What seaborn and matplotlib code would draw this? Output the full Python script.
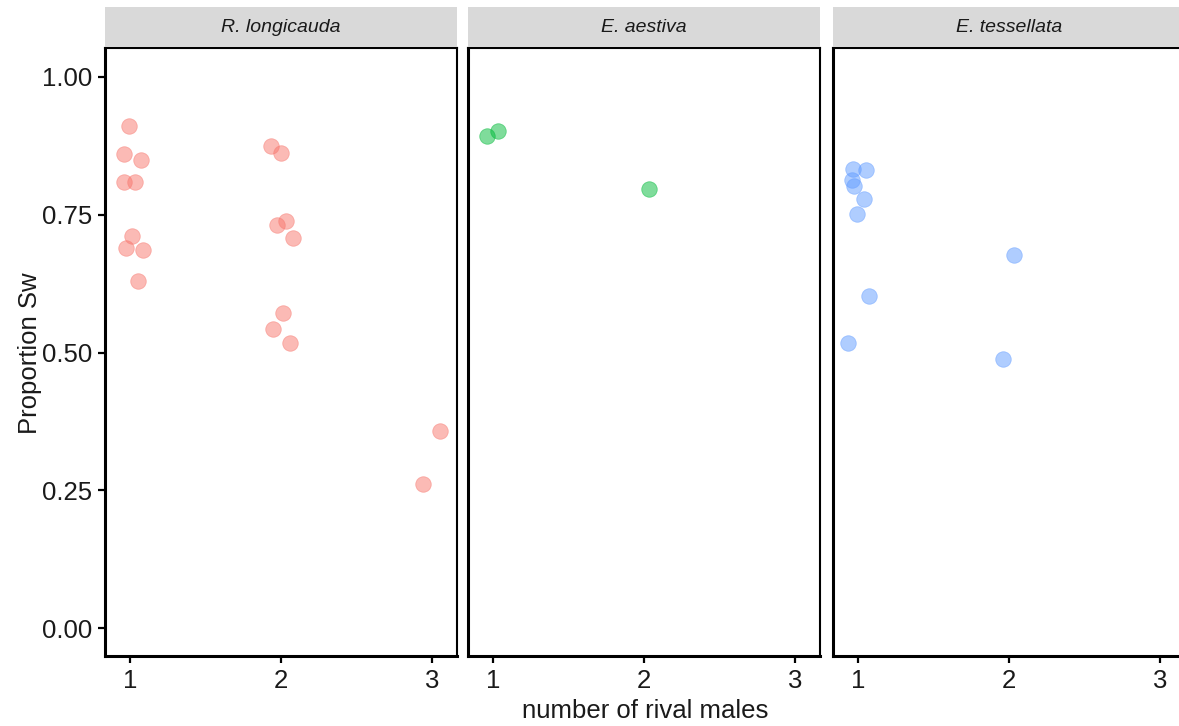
import numpy as np
import pandas as pd
import matplotlib
matplotlib.use("Agg")
import matplotlib.pyplot as plt
import seaborn as sns

sns.set_style("white")
plt.rcParams["font.family"] = ["Liberation Sans", "DejaVu Sans"]

# Species panels and their colours
species = ["R. longicauda", "E. aestiva", "E. tessellata"]
colors = ["#F8766D", "#00BA38", "#619CFF"]

# Number of rival males (jittered horizontally) and proportion Sw per trial
rl_rivals = [0.995, 0.960, 1.075, 0.960, 1.031, 1.015, 0.972, 1.086, 1.051,
             1.932, 2.002, 1.975, 2.035, 2.079, 2.013, 1.945, 2.060,
             3.053, 2.940]
rl_sw = [0.911, 0.859, 0.849, 0.810, 0.810, 0.711, 0.689, 0.685, 0.630,
         0.874, 0.862, 0.731, 0.739, 0.707, 0.571, 0.543, 0.518,
         0.357, 0.262]

ea_rivals = [0.959, 1.035, 2.031]
ea_sw = [0.893, 0.902, 0.797]

et_rivals = [0.967, 1.051, 0.957, 0.971, 1.037, 0.993, 1.073, 0.935, 2.031, 1.960]
et_sw = [0.833, 0.831, 0.813, 0.802, 0.778, 0.751, 0.602, 0.518, 0.676, 0.488]

x_ticks = [1, 2, 3]
y_ticks = [0.00, 0.25, 0.50, 0.75, 1.00]
y_tick_labels = ["0.00", "0.25", "0.50", "0.75", "1.00"]

df = pd.concat([
    pd.DataFrame({"species": species[0], "rivals": rl_rivals, "sw": rl_sw}),
    pd.DataFrame({"species": species[1], "rivals": ea_rivals, "sw": ea_sw}),
    pd.DataFrame({"species": species[2], "rivals": et_rivals, "sw": et_sw}),
], ignore_index=True)

W, H = 1179, 726
fig = plt.figure(figsize=(W / 100, H / 100), dpi=100)

panel_left = [105, 468, 833]
panel_w = 352
panel_top, panel_bottom = 48, 656
strip_top, strip_bottom = 7, 47

for i, (sp, col) in enumerate(zip(species, colors)):
    ax = fig.add_axes([panel_left[i] / W, (H - panel_bottom) / H,
                       panel_w / W, (panel_bottom - panel_top) / H])
    sub = df[df["species"] == sp]
    sns.scatterplot(data=sub, x="rivals", y="sw", color=col, alpha=0.5,
                    s=125, edgecolor=col, linewidth=0.6, ax=ax, legend=False)
    ax.set_xlim(0.834, 3.166)
    ax.set_ylim(-0.050, 1.052)
    ax.set_xticks(x_ticks)
    ax.set_xticklabels([str(t) for t in x_ticks])
    ax.set_yticks(y_ticks)
    ax.set_xlabel("")
    ax.set_ylabel("")
    ax.tick_params(axis="both", labelsize=18.5, colors="black",
                   labelcolor="#1a1a1a", width=1.6, length=5, pad=4,
                   bottom=True, left=True, direction="out")
    if i == 0:
        ax.set_yticklabels(y_tick_labels)
    else:
        ax.set_yticklabels([])
        ax.tick_params(axis="y", left=False, length=0)
    for side in ["left", "bottom"]:
        ax.spines[side].set_linewidth(2.2)
        ax.spines[side].set_color("black")
    for side in ["top", "right"]:
        ax.spines[side].set_linewidth(1.5)
        ax.spines[side].set_color("black")
    ax.grid(False)

    # facet strip
    sax = fig.add_axes([panel_left[i] / W, (H - strip_bottom) / H,
                        panel_w / W, (strip_bottom - strip_top) / H])
    sax.set_facecolor("#D9D9D9")
    sax.set_xticks([])
    sax.set_yticks([])
    for s in sax.spines.values():
        s.set_visible(False)
    sax.text(0.5, 0.5, sp, ha="center", va="center", style="italic",
             fontsize=14, color="#1a1a1a", transform=sax.transAxes)

fig.text((105 + 1185) / 2 / W, 1 - 711 / H, "number of rival males",
         ha="center", va="center", fontsize=18.5, color="#1a1a1a")
fig.text(30 / W, 1 - 353 / H, "Proportion Sw", ha="center", va="center",
         rotation=90, fontsize=18.5, color="#1a1a1a")

fig.savefig("out.png", dpi=100)
